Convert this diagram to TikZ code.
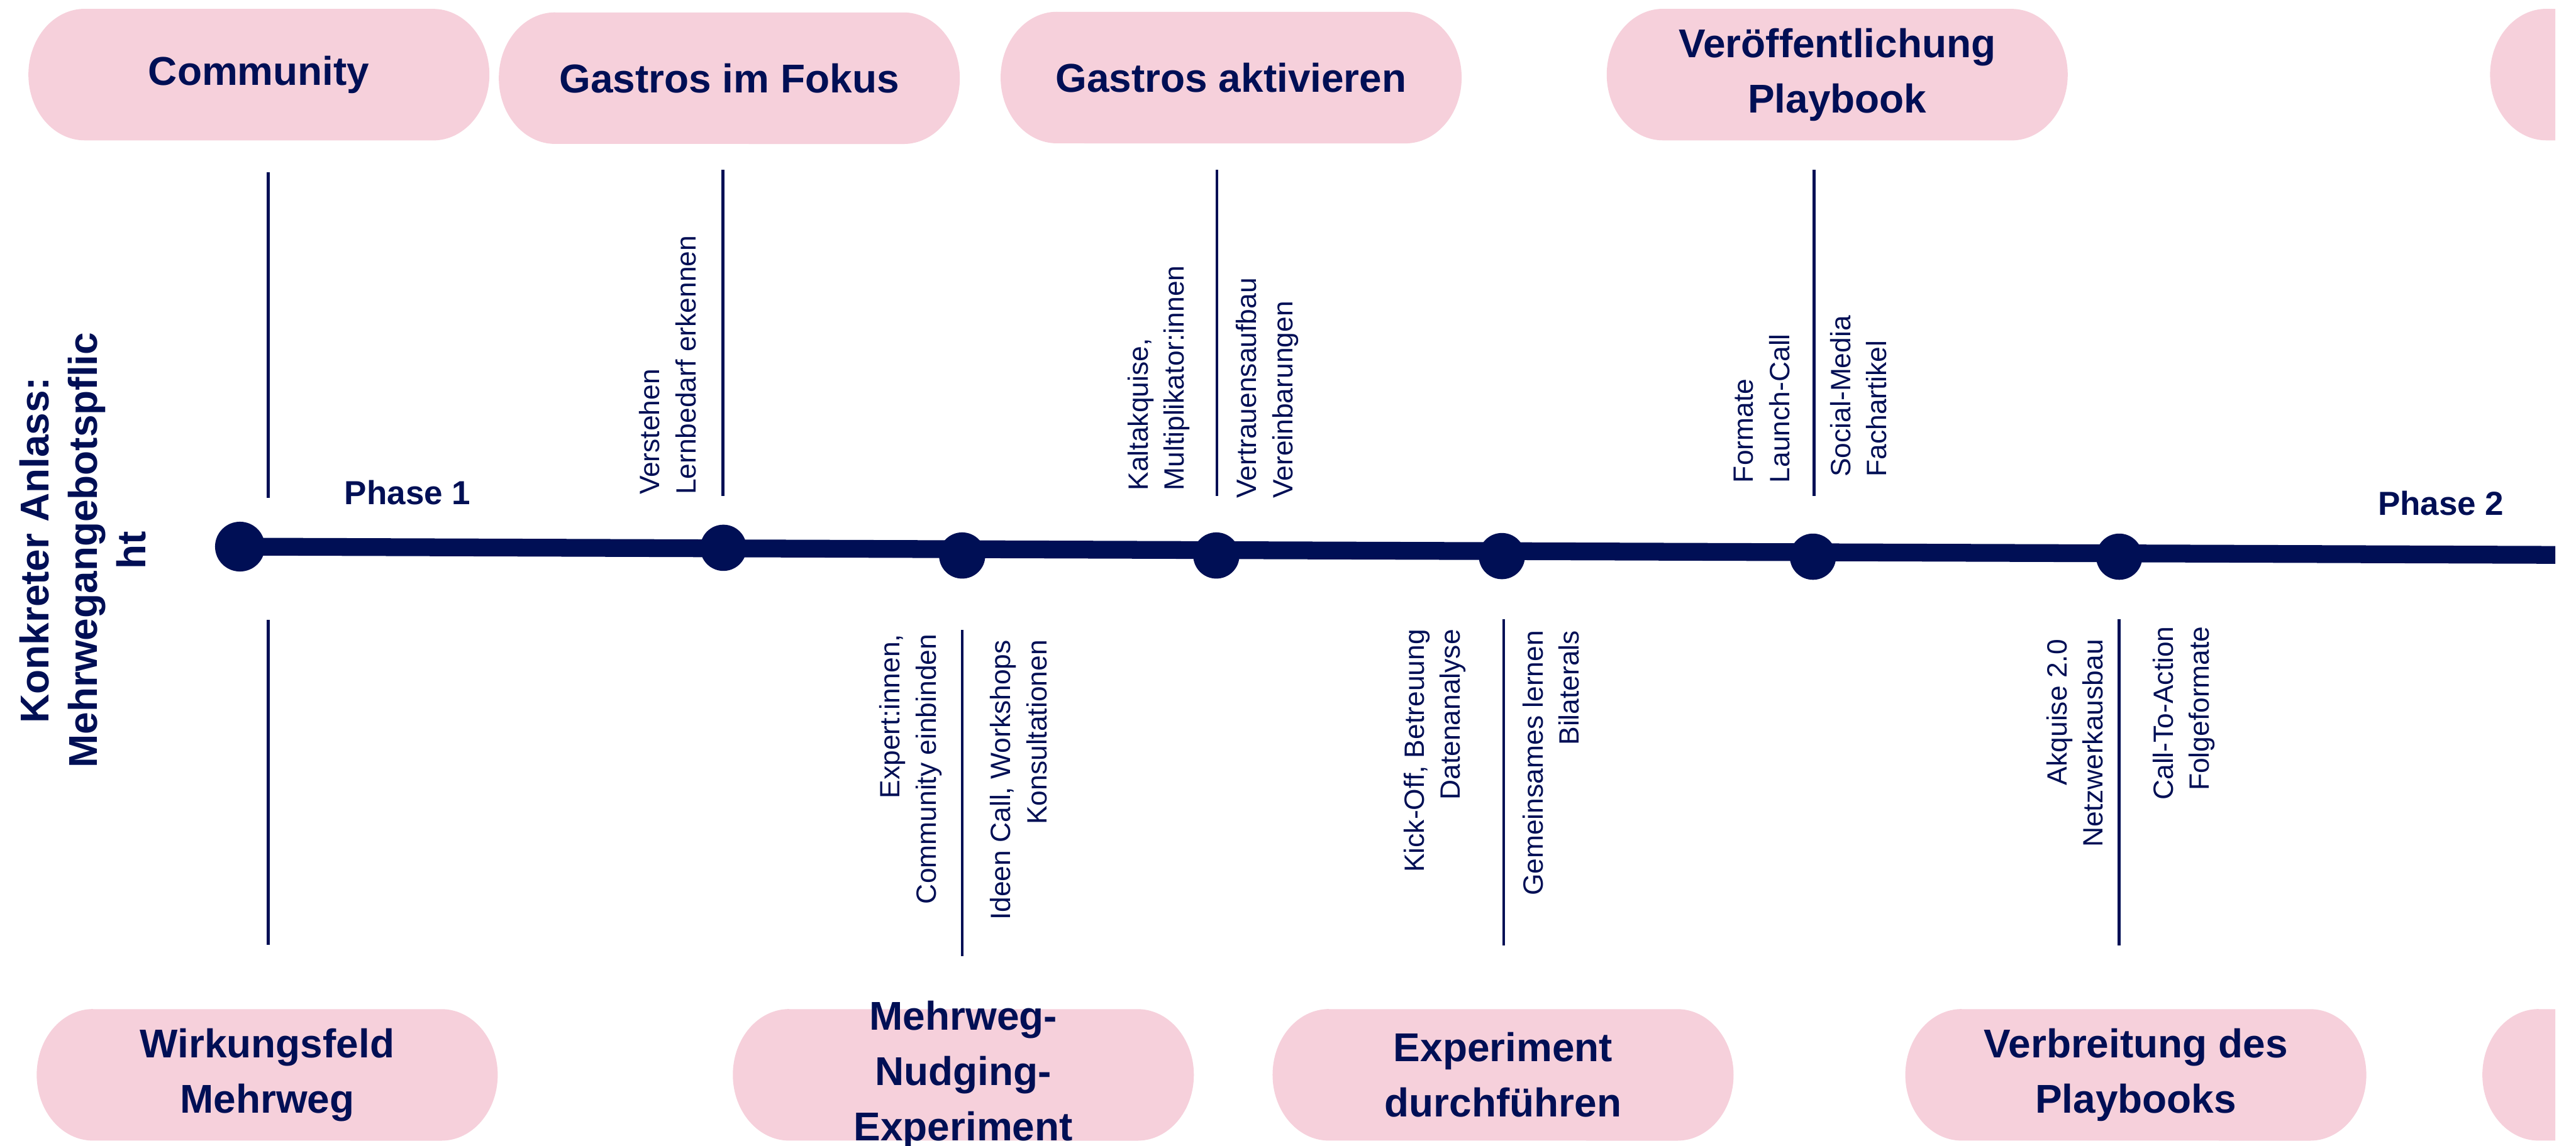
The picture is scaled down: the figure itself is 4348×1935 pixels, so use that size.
\documentclass[tikz,border=0pt]{standalone}
\usepackage{fontspec}
\setmainfont{Liberation Sans}
\definecolor{navy}{HTML}{000F55}
\definecolor{pinkc}{HTML}{F6D0DB}
\tikzset{
  title/.style={text=navy, font=\bfseries\fontsize{19.3}{26.5}\selectfont, align=center, inner sep=0pt},
  lbl/.style={text=navy, font=\fontsize{13.4}{17.4}\selectfont, rotate=90, inner sep=0pt},
  uplbl/.style={lbl, anchor=west, align=left},
  downlbl/.style={lbl, anchor=east, align=right},
  tickline/.style={draw=navy, line width=0.05cm},
  dotnode/.style={circle, fill=navy, minimum size=0.78cm, inner sep=0pt},
  bigdot/.style={dotnode, minimum size=0.84cm},
  phaselbl/.style={text=navy, font=\bfseries\fontsize{16}{19}\selectfont, anchor=base, inner sep=0pt},
}
\newcommand\pill[4]{%
  \fill[pinkc] ({#2+95},#3) -- ({#2+683},#3)
    arc[start angle=90,end angle=-90,x radius=0.95cm,y radius=1.11cm]
    -- ({#2+95},{#3+222})
    arc[start angle=-90,end angle=-270,x radius=0.95cm,y radius=1.11cm] -- cycle;
  \node[title] (#1) at ({#2+389},{#3+111}) {#4};
}
\begin{document}
\begin{tikzpicture}[x=0.01cm,y=-0.01cm]
\useasboundingbox (0,0) rectangle (4348,1935);
\fill[white] (0,0) rectangle (4348,1935);

\begin{scope}
\clip (0,0) rectangle (4313,1935);
\pill{t1}{48}{15}{Community}
\pill{t2}{842}{21}{Gastros im Fokus}
\pill{t3}{1689}{20}{Gastros aktivieren}
\pill{t4}{2712}{15}{Veröffentlichung\\Playbook}
\pill{t5}{4203}{15}{}
\pill{b1}{62}{1704}{Wirkungsfeld\\Mehrweg}
\pill{b2}{1237}{1704}{Mehrweg-\\Nudging-\\Experiment}
\pill{b3}{2148}{1704}{Experiment\\durchführen}
\pill{b4}{3216}{1704}{Verbreitung des\\Playbooks}
\pill{b5}{4190}{1704}{}
\end{scope}

% left title
\node[text=navy, font=\bfseries\fontsize{19.3}{23.3}\selectfont, align=center, rotate=90, inner sep=0pt] (anlass) at (140,929) {Konkreter Anlass:\\Mehrwegangebotspflic\\ht};

% timeline
\node[bigdot] (d0) at (405,923) {};
\coordinate (tend) at (4313,937);
\draw[navy, line width=0.3cm] (d0.center) -- (tend);
\node[dotnode] (d1) at (1221,925) {};
\node[dotnode] (d2) at (1624,938) {};
\node[dotnode] (d3) at (2053,938) {};
\node[dotnode] (d4) at (2535,939) {};
\node[dotnode] (d5) at (3060,940) {};
\node[dotnode] (d6) at (3577,940) {};

\node[phaselbl] (ph1) at (688,852) {Phase 1};
\node[phaselbl] (ph2) at (4120,870) {Phase 2};

% tick lines
\coordinate (ua1) at (453,291);  \coordinate (ub1) at (453,841);
\coordinate (ua2) at (1220,287); \coordinate (ub2) at (1220,837);
\coordinate (ua3) at (2054,287); \coordinate (ub3) at (2054,837);
\coordinate (ua4) at (3062,287); \coordinate (ub4) at (3062,837);
\coordinate (la1) at (453,1047);  \coordinate (lb1) at (453,1595);
\coordinate (la2) at (1624,1064); \coordinate (lb2) at (1624,1615);
\coordinate (la3) at (2538,1046); \coordinate (lb3) at (2538,1596);
\coordinate (la4) at (3577,1046); \coordinate (lb4) at (3577,1596);
\foreach \i in {1,2,3,4} {
  \draw[tickline] (ua\i) -- (ub\i);
  \draw[tickline] (la\i) -- (lb\i);
}

% upper labels
\node[uplbl] (u1) at (1127,836) {Verstehen\\Lernbedarf erkennen};
\node[uplbl] (u2) at (1956,829) {Kaltakquise,\\Multiplikator:innen};
\node[uplbl] (u3) at (2139,842) {Vertrauensaufbau\\Vereinbarungen};
\node[uplbl] (u4) at (2974,816) {Formate\\Launch-Call};
\node[uplbl] (u5) at (3137,806) {Social-Media\\Fachartikel};

% lower labels
\node[downlbl] (l1) at (1537,1070) {Expert:innen,\\Community einbinden};
\node[downlbl] (l2) at (1719,1080) {Ideen Call, Workshops\\Konsultationen};
\node[downlbl] (l3) at (2422,1062) {Kick-Off, Betreuung\\Datenanalyse};
\node[downlbl] (l4) at (2618,1064) {Gemeinsames lernen\\Bilaterals};
\node[downlbl] (l5) at (3502,1079) {Akquise 2.0\\Netzwerkausbau};
\node[downlbl] (l6) at (3686,1057) {Call-To-Action\\Folgeformate};
\end{tikzpicture}
\end{document}
